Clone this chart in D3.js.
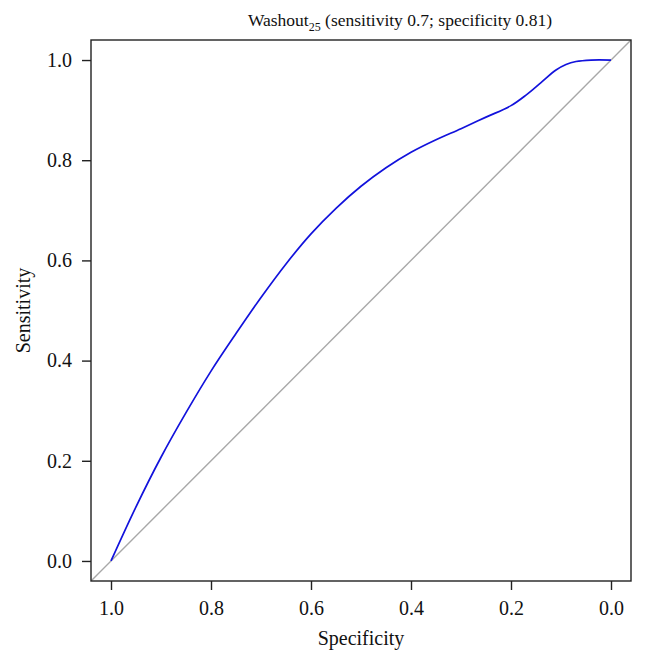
<!DOCTYPE html>
<html>
<head>
<meta charset="utf-8">
<script src="https://cdn.jsdelivr.net/npm/d3@7"></script>
<style>
  html, body { margin: 0; padding: 0; background: #fff; }
  svg { display: block; }
  text { font-family: "Liberation Serif", "DejaVu Serif", serif; fill: #111; }
</style>
</head>
<body>
<svg id="chart" width="646" height="667"></svg>
<script>
// Data (ROC curve)
const specificity = [1.00, 0.95, 0.90, 0.85, 0.80, 0.75, 0.70, 0.65, 0.60, 0.55, 0.50, 0.45, 0.40, 0.35, 0.30, 0.25, 0.20, 0.17, 0.14, 0.11, 0.09, 0.07, 0.04, 0.00];
const sensitivity = [0.000, 0.108, 0.207, 0.296, 0.379, 0.454, 0.526, 0.593, 0.653, 0.704, 0.748, 0.785, 0.816, 0.841, 0.863, 0.886, 0.909, 0.930, 0.955, 0.980, 0.991, 0.997, 1.000, 1.000];
const xTicks = [1.0, 0.8, 0.6, 0.4, 0.2, 0.0];
const yTicks = [0.0, 0.2, 0.4, 0.6, 0.8, 1.0];
const titleMain = "Washout";
const titleSub = "25";
const titleRest = " (sensitivity 0.7; specificity 0.81)";
const xLabel = "Specificity";
const yLabel = "Sensitivity";

const svg = d3.select("#chart");
const mLeft = 91, mRight = 631, mTop = 40, mBottom = 581;

const x = d3.scaleLinear().domain([1.04, -0.04]).range([mLeft, mRight]);
const y = d3.scaleLinear().domain([-0.04, 1.04]).range([mBottom, mTop]);

svg.append("defs").append("clipPath").attr("id", "clip")
  .append("rect").attr("x", mLeft).attr("y", mTop).attr("width", mRight - mLeft).attr("height", mBottom - mTop);

// diagonal reference line: sens = 1 - spec
svg.append("line")
  .attr("clip-path", "url(#clip)")
  .attr("x1", x(1.04)).attr("y1", y(1 - 1.04))
  .attr("x2", x(-0.04)).attr("y2", y(1 + 0.04))
  .attr("stroke", "#a8a8a8").attr("stroke-width", 1.4);

// ROC curve
const pts = specificity.map((s, i) => [s, sensitivity[i]]);
svg.append("path")
  .datum(pts)
  .attr("fill", "none")
  .attr("stroke", "#1212dc")
  .attr("stroke-width", 1.7)
  .attr("d", d3.line().x(d => x(d[0])).y(d => y(d[1])).curve(d3.curveCatmullRom.alpha(0.5)));

// box
svg.append("rect")
  .attr("x", mLeft).attr("y", mTop).attr("width", mRight - mLeft).attr("height", mBottom - mTop)
  .attr("fill", "none").attr("stroke", "#222").attr("stroke-width", 1.4);

// axes
const xAxis = svg.append("g").attr("transform", `translate(0,${mBottom})`)
  .call(d3.axisBottom(x).tickValues(xTicks).tickFormat(d3.format(".1f")).tickSize(9).tickPadding(11));
const yAxis = svg.append("g").attr("transform", `translate(${mLeft},0)`)
  .call(d3.axisLeft(y).tickValues(yTicks).tickFormat(d3.format(".1f")).tickSize(9).tickPadding(10));
[xAxis, yAxis].forEach(g => {
  g.select(".domain").remove();
  g.selectAll(".tick line").attr("stroke", "#222").attr("stroke-width", 1.4);
  g.selectAll(".tick text").attr("font-family", "Liberation Serif, DejaVu Serif, serif")
    .attr("font-size", 20).attr("fill", "#111");
});

// title
const t = svg.append("text").attr("x", 400).attr("y", 26).attr("text-anchor", "middle")
  .attr("font-size", 17.5);
t.append("tspan").text(titleMain);
t.append("tspan").attr("font-size", 12).attr("dy", 5).text(titleSub);
t.append("tspan").attr("dy", -5).text(titleRest);

// axis labels
svg.append("text").attr("x", (mLeft + mRight) / 2).attr("y", 645).attr("text-anchor", "middle")
  .attr("font-size", 20).text(xLabel);
svg.append("text").attr("transform", `translate(30,${(mTop + mBottom) / 2}) rotate(-90)`)
  .attr("text-anchor", "middle").attr("font-size", 20).text(yLabel);
</script>
</body>
</html>
